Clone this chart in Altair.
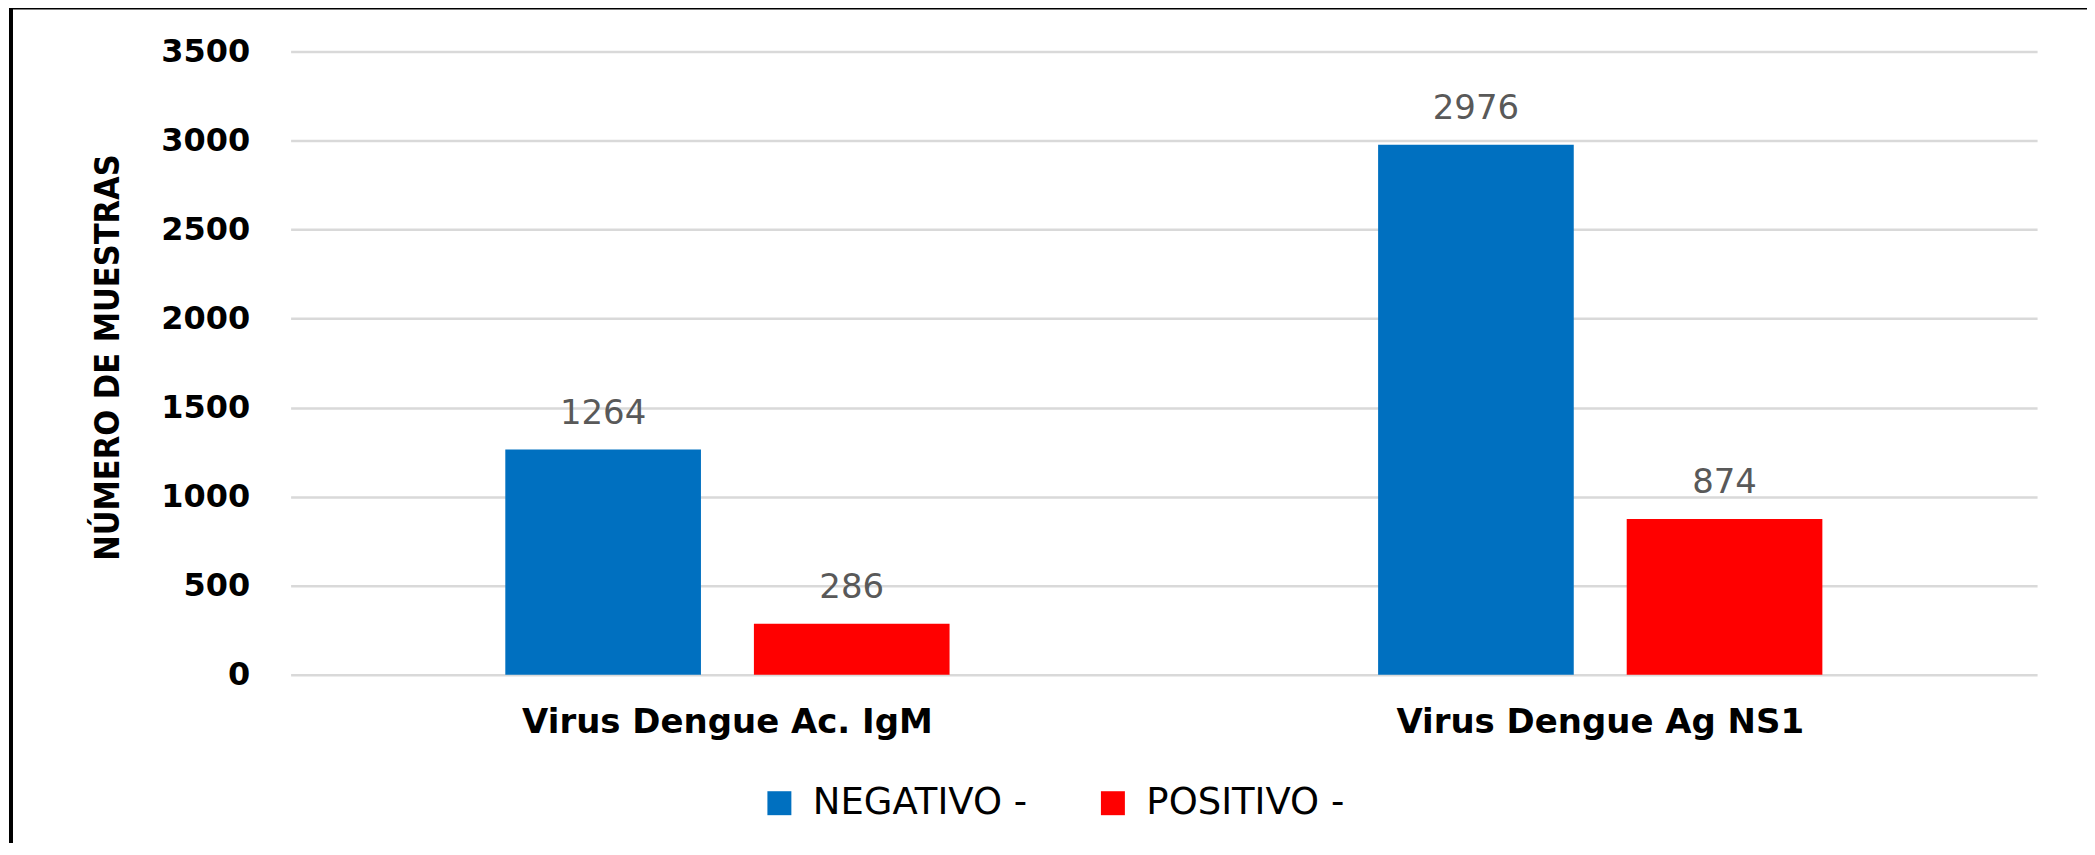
import altair as alt
import pandas as pd

categories = ["Virus Dengue Ac. IgM", "Virus Dengue Ag NS1"]
series = ["NEGATIVO -", "POSITIVO -"]
negativo = [1264, 2976]
positivo = [286, 874]
y_ticks = [0, 500, 1000, 1500, 2000, 2500, 3000, 3500]
colors = ["#0070C0", "#FF0000"]

rows = []
for i, c in enumerate(categories):
    rows.append({"categoria": c, "resultado": series[0], "n": negativo[i]})
    rows.append({"categoria": c, "resultado": series[1], "n": positivo[i]})
df = pd.DataFrame(rows)

x_enc = alt.X(
    "categoria:N",
    sort=categories,
    scale=alt.Scale(paddingInner=0.491, paddingOuter=0.246),
    axis=alt.Axis(
        title=None, labelAngle=0, domain=False, ticks=False, labelLimit=0,
        labelFont="DejaVu Sans", labelFontWeight="bold", labelFontSize=34,
        labelColor="#000000", labelPadding=31, labelBaseline="top",
    ),
)
xo_enc = alt.XOffset(
    "resultado:N", sort=series,
    scale=alt.Scale(paddingInner=0.213, paddingOuter=0),
)
y_enc = alt.Y(
    "n:Q",
    scale=alt.Scale(domain=[0, 3500], nice=False),
    axis=alt.Axis(
        title="NÚMERO DE MUESTRAS", values=y_ticks, format="d",
        domain=False, ticks=False,
        labelFont="DejaVu Sans", labelFontWeight="bold", labelFontSize=32,
        labelColor="#000000", labelPadding=41,
        gridColor="#d9d9d9", gridWidth=2.5,
        titleFont="DejaVu Sans Condensed, DejaVu Sans, sans-serif",
        titleFontWeight="bold", titleFontSize=34, titleColor="#000000",
        titleX=-182, titleY=306, titleAngle=270, titleBaseline="middle",
        titleAlign="center",
    ),
)

bars = alt.Chart(df).mark_bar().encode(
    x=x_enc,
    xOffset=xo_enc,
    y=y_enc,
    color=alt.Color(
        "resultado:N", sort=series,
        scale=alt.Scale(domain=series, range=colors),
        legend=alt.Legend(
            title=None, orient="none", legendX=471, legendY=734,
            direction="horizontal", symbolType="square", symbolSize=576,
            symbolStrokeWidth=0, labelFont="DejaVu Sans", labelFontSize=37,
            labelColor="#000000", labelOffset=15, columnPadding=67,
            labelLimit=0,
        ),
    ),
)

labels = alt.Chart(df).mark_text(
    baseline="alphabetic", dy=-26, fontSize=34, font="DejaVu Sans", color="#595959"
).encode(
    x=alt.X("categoria:N", sort=categories),
    xOffset=alt.XOffset("resultado:N", sort=series),
    y="n:Q",
    text="n:Q",
)

frame_data = alt.Data(values=[{}])
left_line = alt.Chart(frame_data).mark_rule(color="#000000", strokeWidth=4).encode(
    x=alt.value(-280), y=alt.value(-46), y2=alt.value(804)
)
top_line = alt.Chart(frame_data).mark_rule(color="#000000", strokeWidth=4).encode(
    x=alt.value(-282), x2=alt.value(1810), y=alt.value(-44)
)

chart = alt.layer(bars, labels, left_line, top_line).properties(
    width=1749, height=624,
    autosize=alt.AutoSizeParams(type="none"),
    padding={"left": 283, "top": 43, "right": 50, "bottom": 168},
).configure_view(stroke=None)

chart.save("out.html", embed_options={"renderer": "svg", "actions": False})
